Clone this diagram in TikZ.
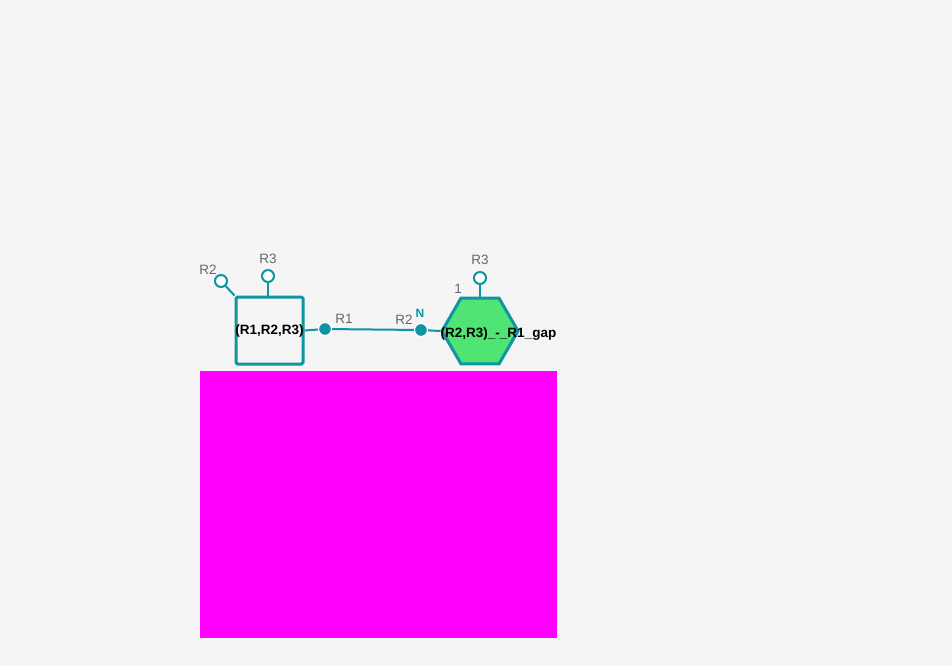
\documentclass[tikz,border=0pt]{standalone}
\usepackage{fontspec}
\setmainfont{Liberation Sans}
\usetikzlibrary{shapes.geometric}
\definecolor{bondteal}{HTML}{0E95A1}
\definecolor{labelgray}{HTML}{666666}
\definecolor{monogreen}{HTML}{50E475}
\definecolor{bgpage}{HTML}{F5F5F5}
\definecolor{legendpink}{HTML}{FF00FF}

\begin{document}
\begin{tikzpicture}[x=1pt, y=-1pt,
    bond/.style={draw=bondteal, line width=2pt},
    opencap/.style={circle, draw=bondteal, fill=white, line width=2pt, inner sep=0pt, minimum size=12pt},
    fullcap/.style={circle, draw=white, fill=bondteal, line width=1.2pt, inner sep=0pt, minimum size=13pt},
    rlabel/.style={text=labelgray, font=\fontsize{13.5}{15}\selectfont, inner sep=0pt},
    monotext/.style={font=\bfseries\fontsize{13.5}{15}\selectfont, inner sep=0pt}]
    \fill[bgpage] (0,0) rectangle (952,666);
    \useasboundingbox (0,0) rectangle (952,666);
    % monomer boxes
    \node(sq)[draw=bondteal, line width=3pt, fill=bgpage, rounded corners=1.5pt,
      minimum width=67pt, minimum height=67pt, inner sep=0pt] at (269.5,330.5) {};
    \node(hex)[regular polygon, regular polygon sides=6, draw=bondteal, line width=3pt,
      fill=monogreen, minimum size=76pt, inner sep=0pt] at (480,331) {};
    % attachment points
    \node(sq-r2)[opencap] at (221,281) {};
    \node(sq-r3)[opencap] at (268,276) {};
    \node(sq-r1)[fullcap] at (325,329) {};
    \node(hex-r2)[fullcap] at (421,330) {};
    \node(hex-r3)[opencap] at (480,278) {};
    \path[bond] (sq.north west) -- (sq-r2);
    \path[bond] (sq-r3) -- (268,297);
    \path[bond] (sq.east) -- (sq-r1);
    \path[bond] (sq-r1) -- (hex-r2);
    \path[bond] (hex-r2) -- (hex.west);
    \path[bond] (hex-r3) -- (480,298);
    % labels
    \node[rlabel] at (208,270) {R2};
    \node[rlabel] at (268,259) {R3};
    \node[rlabel] at (344,319) {R1};
    \node[rlabel] at (404,320) {R2};
    \node[text=bondteal, font=\bfseries\fontsize{12}{14}\selectfont, inner sep=0pt] at (420,313) {N};
    \node[rlabel] at (480,260) {R3};
    \node[rlabel] at (458,289) {1};
    \node(sq-name)[monotext, anchor=base] at (269.5,334) {(R1,R2,R3)};
    \node(hex-name)[monotext, anchor=base] at (498.5,337) {(R2,R3)\_-\_R1\_gap};
    % legend area
    \fill[legendpink] (200,371) rectangle (557,638);
  \end{tikzpicture}
\end{document}
